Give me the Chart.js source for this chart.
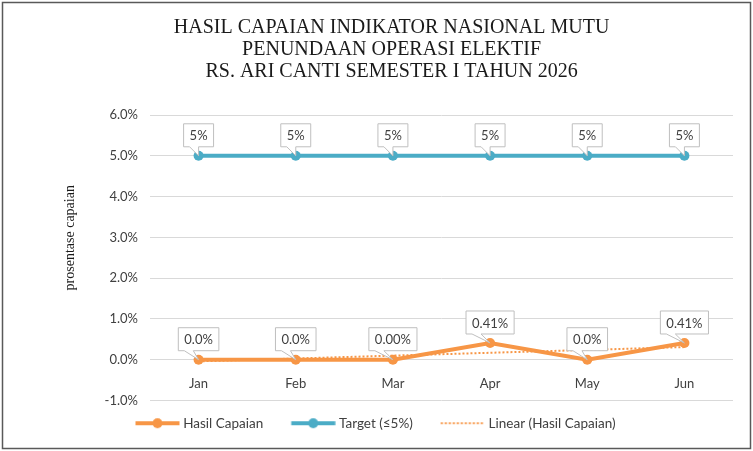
<!DOCTYPE html>
<html>
<head>
<meta charset="utf-8">
<script src="https://cdn.jsdelivr.net/npm/chart.js@4.4.1/dist/chart.umd.min.js"></script>
<style>
  html, body { margin: 0; padding: 0; background: #fff; }
  #wrap { width: 753px; height: 451px; position: relative; }
</style>
</head>
<body>
<div id="wrap"><canvas id="chart"></canvas></div>
<script>
// chart data
const months = ["Jan", "Feb", "Mar", "Apr", "May", "Jun"];
const hasilCapaian = [0, 0, 0, 0.41, 0, 0.41];
const target = [5, 5, 5, 5, 5, 5];
const linearTrend = [-0.04, 0.03, 0.10, 0.17, 0.24, 0.31];
const hasilLabels = ["0.0%", "0.0%", "0.00%", "0.41%", "0.0%", "0.41%"];
const targetLabels = ["5%", "5%", "5%", "5%", "5%", "5%"];
const yTicks = [-1, 0, 1, 2, 3, 4, 5, 6];
const titleLines = [
  "HASIL CAPAIAN INDIKATOR NASIONAL MUTU",
  "PENUNDAAN OPERASI ELEKTIF",
  "RS. ARI CANTI SEMESTER I TAHUN 2026",
];
const yTitle = "prosentase capaian";

const ORANGE = "#F79646";
const BLUE = "#4BACC6";
const SANS = "Lato, 'Open Sans', sans-serif";
const SERIF = "'Liberation Serif', 'Times New Roman', serif";

// legend marker: line with a dot (or dotted line), offset inside the legend box
const MARK_BOX = 53;
function legendMarker(color, dotted) {
  const c = document.createElement("canvas");
  c.width = 60; c.height = 12;
  const g = c.getContext("2d");
  const x0 = (c.width - MARK_BOX) / 2 + 12; // line starts 12px into the box
  g.strokeStyle = color;
  g.lineWidth = dotted ? 2 : 4;
  if (dotted) g.setLineDash([2, 2]);
  g.beginPath(); g.moveTo(x0, 6); g.lineTo(x0 + 44, 6); g.stroke();
  if (!dotted) {
    g.fillStyle = color;
    g.beginPath(); g.arc(x0 + 22, 6, 5, 0, Math.PI * 2); g.fill();
  }
  return c;
}

// callout boxes above points
const calloutPlugin = {
  id: "callouts",
  afterDatasetsDraw(chart) {
    const ctx = chart.ctx;
    chart.data.datasets.forEach((ds, i) => {
      if (!ds.callouts) return;
      const meta = chart.getDatasetMeta(i);
      meta.data.forEach((pt, j) => {
        const text = ds.callouts[j];
        ctx.save();
        ctx.font = "13px " + SANS;
        const w = ctx.measureText(text).width + 12;
        const h = 23;
        const bx = pt.x - w / 2;
        const by = pt.y - 9 - h;
        ctx.fillStyle = "#fff";
        ctx.strokeStyle = "#BFBFBF";
        ctx.lineWidth = 1;
        ctx.beginPath();
        ctx.moveTo(bx, by);
        ctx.lineTo(bx + w, by);
        ctx.lineTo(bx + w, by + h);
        ctx.lineTo(bx + 15, by + h);
        ctx.lineTo(pt.x, pt.y);
        ctx.lineTo(bx + 6, by + h);
        ctx.lineTo(bx, by + h);
        ctx.closePath();
        ctx.fill();
        ctx.stroke();
        ctx.fillStyle = "#404040";
        ctx.textAlign = "center";
        ctx.textBaseline = "middle";
        ctx.fillText(text, pt.x, by + h / 2 + 1);
        ctx.restore();
      });
    });
  },
};

// outer frame, chart title and rotated y title
const framePlugin = {
  id: "frame",
  afterDraw(chart) {
    const ctx = chart.ctx;
    const area = chart.chartArea;
    ctx.save();
    ctx.strokeStyle = "#595959";
    ctx.lineWidth = 1.5;
    ctx.strokeRect(2.5, 2.5, chart.width - 5, chart.height - 5);

    ctx.font = "20px " + SERIF;
    ctx.fillStyle = "#1a1a1a";
    ctx.textAlign = "center";
    ctx.textBaseline = "alphabetic";
    titleLines.forEach((line, k) => {
      ctx.fillText(line, chart.width * 0.52, 32.5 + k * 22.3);
    });

    ctx.translate(area.left - 80, (area.top + area.bottom) / 2 - 20);
    ctx.rotate(-Math.PI / 2);
    ctx.font = "14px " + SERIF;
    ctx.textBaseline = "middle";
    ctx.fillText(yTitle, 0, 0);
    ctx.restore();
  },
};

new Chart(document.getElementById("chart").getContext("2d"), {
  type: "line",
  data: {
    labels: months,
    datasets: [
      {
        label: "Hasil Capaian",
        data: hasilCapaian,
        borderColor: ORANGE,
        backgroundColor: ORANGE,
        borderWidth: 4,
        pointRadius: 5,
        pointBorderWidth: 0,
        pointHoverRadius: 5,
        tension: 0,
        order: 1,
        callouts: hasilLabels,
      },
      {
        label: "Target (≤5%)",
        data: target,
        borderColor: BLUE,
        backgroundColor: BLUE,
        borderWidth: 4,
        pointRadius: 5,
        pointBorderWidth: 0,
        pointHoverRadius: 5,
        tension: 0,
        order: 2,
        callouts: targetLabels,
      },
      {
        label: "Linear (Hasil Capaian)",
        data: linearTrend,
        borderColor: ORANGE,
        borderWidth: 2,
        borderDash: [2, 2],
        pointRadius: 0,
        tension: 0,
        order: 3,
      },
    ],
  },
  options: {
    responsive: true,
    maintainAspectRatio: false,
    animation: false,
    layout: { padding: { left: 6, right: 20, top: 115, bottom: 11 } },
    plugins: {
      title: { display: false },
      legend: {
        position: "bottom",
        labels: {
          usePointStyle: true,
          pointStyleWidth: MARK_BOX,
          boxHeight: 12,
          padding: 16,
          color: "#404040",
          font: { family: SANS, size: 13.5 },
          generateLabels(chart) {
            const items = Chart.defaults.plugins.legend.labels.generateLabels(chart);
            return items.map((it, i) => {
              const ds = chart.data.datasets[i];
              it.pointStyle = legendMarker(ds.borderColor, i === 2);
              it.lineDash = [];
              it.lineWidth = 0;
              return it;
            });
          },
        },
      },
      tooltip: { enabled: false },
    },
    scales: {
      x: {
        offset: true,
        position: { y: 0 },
        grid: { display: false },
        border: { display: false },
        ticks: { color: "#404040", font: { family: SANS, size: 13 }, padding: 8 },
      },
      y: {
        min: -1,
        max: 6,
        afterBuildTicks(scale) {
          scale.ticks = yTicks.map((v) => ({ value: v }));
        },
        afterFit(scale) {
          scale.width = 144;
        },
        grid: { color: "#D9D9D9", lineWidth: 1, drawTicks: false },
        border: { display: false },
        ticks: {
          color: "#404040",
          font: { family: SANS, size: 13 },
          padding: 12,
          callback: (v) => v.toFixed(1) + "%",
        },
      },
    },
  },
  plugins: [calloutPlugin, framePlugin],
});
</script>
</body>
</html>
